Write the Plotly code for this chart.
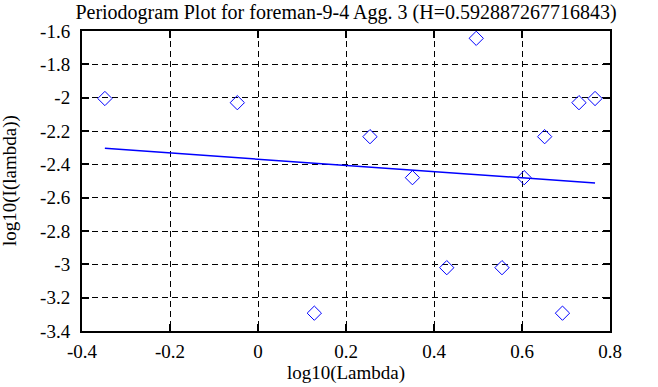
import plotly.graph_objects as go

log_lambda = [-0.348, -0.047, 0.128, 0.2545, 0.351, 0.429, 0.496, 0.5545, 0.605, 0.6515, 0.692, 0.7295, 0.766]
log_I = [-2.005, -2.03, -3.293, -2.234, -2.48, -3.02, -1.644, -3.02, -2.48, -2.234, -3.293, -2.03, -2.005]
fit_x = [-0.348, 0.766]
fit_y = [-2.304, -2.512]

x_ticks = [-0.4, -0.2, 0, 0.2, 0.4, 0.6, 0.8]
x_labels = ["-0.4", "-0.2", "0", "0.2", "0.4", "0.6", "0.8"]
y_ticks = [-1.6, -1.8, -2.0, -2.2, -2.4, -2.6, -2.8, -3.0, -3.2, -3.4]
y_labels = ["-1.6", "-1.8", "-2", "-2.2", "-2.4", "-2.6", "-2.8", "-3", "-3.2", "-3.4"]

FONT = "'Liberation Serif', 'Times New Roman', serif"
FS = 19

fig = go.Figure()
fig.add_trace(go.Scatter(x=log_lambda, y=log_I, mode="markers",
                         marker=dict(symbol="diamond-open", size=11, color="#0000ff",
                                     line=dict(width=1, color="#0000ff")),
                         showlegend=False))
fig.add_trace(go.Scatter(x=fit_x, y=fit_y, mode="lines",
                         line=dict(color="#0000ff", width=1.5), showlegend=False))

axis_common = dict(showline=True, linecolor="black", linewidth=2, mirror="ticks",
                   ticks="inside", ticklen=7, tickwidth=2, tickcolor="black",
                   showgrid=True, gridcolor="black", gridwidth=1, griddash="6px,4px",
                   zeroline=False, tickfont=dict(family=FONT, size=FS, color="black"))

fig.update_xaxes(range=[-0.4, 0.8], tickvals=x_ticks, ticktext=x_labels, ticklabelstandoff=2,
                 title=dict(text="log10(Lambda)", font=dict(family=FONT, size=FS, color="black"), standoff=4),
                 **axis_common)
fig.update_yaxes(range=[-3.4, -1.6], tickvals=y_ticks, ticktext=y_labels, ticklabelstandoff=6,
                 **axis_common)

fig.add_annotation(text="log10(I(lambda))", xref="paper", yref="paper",
                   x=(10 - 82) / 528, y=0.5, xanchor="center", yanchor="middle",
                   textangle=-90, showarrow=False,
                   font=dict(family=FONT, size=FS, color="black"))

fig.update_layout(
    width=658, height=387,
    margin=dict(l=82, r=48, t=31, b=56, autoexpand=False),
    paper_bgcolor="white", plot_bgcolor="white",
    title=dict(text="Periodogram Plot for foreman-9-4 Agg. 3 (H=0.592887267716843)",
               x=0.5, xanchor="center", xref="paper", y=1 - 11.5 / 387, yanchor="middle",
               font=dict(family=FONT, size=20, color="black")),
    font=dict(family=FONT, size=FS, color="black"),
)

fig.write_html("out.html", config={"displayModeBar": False},
               post_script="document.body.style.margin='0';document.body.style.overflow='hidden';")
